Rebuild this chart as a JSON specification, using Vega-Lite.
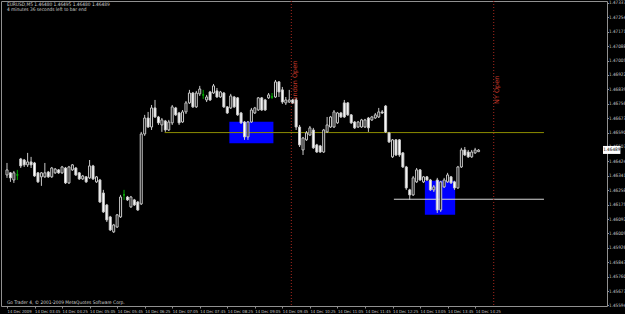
{
  "$schema": "https://vega.github.io/schema/vega-lite/v6.json",
  "width": 606,
  "height": 305,
  "autosize": {"type": "none"},
  "padding": {"left": 1, "top": 1, "right": 18, "bottom": 8},
  "background": "#000000",
  "config": {
    "view": {"stroke": "#909090", "strokeWidth": 1},
    "axis": {"labelFont": "DejaVu Sans Condensed", "labelFontSize": 4.6, "labelColor": "#c8c8c8", "domainColor": "#909090", "tickColor": "#909090", "grid": false, "title": null, "labelOverlap": false, "labelFlush": false, "labelSeparation": 0, "tickCount": 60}
  },
  "datasets": {
    "bars": [
      {"t":"2009-12-14T03:05","o":1.46346,"h":1.46415,"l":1.46329,"c":1.46375},
      {"t":"2009-12-14T03:10","o":1.46358,"h":1.46363,"l":1.46306,"c":1.46329},
      {"t":"2009-12-14T03:15","o":1.46317,"h":1.46369,"l":1.46300,"c":1.46358},
      {"t":"2009-12-14T03:20","o":1.46346,"h":1.46375,"l":1.46317,"c":1.46346},
      {"t":"2009-12-14T03:25","o":1.46438,"h":1.46444,"l":1.46386,"c":1.46398},
      {"t":"2009-12-14T03:30","o":1.46432,"h":1.46438,"l":1.46392,"c":1.46404},
      {"t":"2009-12-14T03:35","o":1.46404,"h":1.46473,"l":1.46392,"c":1.46421},
      {"t":"2009-12-14T03:40","o":1.46421,"h":1.46450,"l":1.46386,"c":1.46404},
      {"t":"2009-12-14T03:45","o":1.46415,"h":1.46421,"l":1.46335,"c":1.46340},
      {"t":"2009-12-14T03:50","o":1.46358,"h":1.46363,"l":1.46300,"c":1.46306},
      {"t":"2009-12-14T03:55","o":1.46335,"h":1.46363,"l":1.46283,"c":1.46358},
      {"t":"2009-12-14T04:00","o":1.46335,"h":1.46415,"l":1.46329,"c":1.46358},
      {"t":"2009-12-14T04:05","o":1.46363,"h":1.46369,"l":1.46329,"c":1.46335},
      {"t":"2009-12-14T04:10","o":1.46335,"h":1.46392,"l":1.46329,"c":1.46386},
      {"t":"2009-12-14T04:15","o":1.46358,"h":1.46386,"l":1.46352,"c":1.46380},
      {"t":"2009-12-14T04:20","o":1.46375,"h":1.46380,"l":1.46352,"c":1.46358},
      {"t":"2009-12-14T04:25","o":1.46358,"h":1.46398,"l":1.46352,"c":1.46392},
      {"t":"2009-12-14T04:30","o":1.46386,"h":1.46392,"l":1.46294,"c":1.46300},
      {"t":"2009-12-14T04:35","o":1.46300,"h":1.46398,"l":1.46294,"c":1.46392},
      {"t":"2009-12-14T04:40","o":1.46375,"h":1.46409,"l":1.46369,"c":1.46404},
      {"t":"2009-12-14T04:45","o":1.46386,"h":1.46392,"l":1.46340,"c":1.46346},
      {"t":"2009-12-14T04:50","o":1.46358,"h":1.46363,"l":1.46317,"c":1.46323},
      {"t":"2009-12-14T04:55","o":1.46323,"h":1.46346,"l":1.46317,"c":1.46340},
      {"t":"2009-12-14T05:00","o":1.46335,"h":1.46340,"l":1.46300,"c":1.46306},
      {"t":"2009-12-14T05:05","o":1.46329,"h":1.46432,"l":1.46323,"c":1.46398},
      {"t":"2009-12-14T05:10","o":1.46398,"h":1.46404,"l":1.46317,"c":1.46323},
      {"t":"2009-12-14T05:15","o":1.46306,"h":1.46340,"l":1.46300,"c":1.46335},
      {"t":"2009-12-14T05:20","o":1.46317,"h":1.46323,"l":1.46185,"c":1.46190},
      {"t":"2009-12-14T05:25","o":1.46242,"h":1.46260,"l":1.46127,"c":1.46133},
      {"t":"2009-12-14T05:30","o":1.46173,"h":1.46179,"l":1.46075,"c":1.46087},
      {"t":"2009-12-14T05:35","o":1.46104,"h":1.46110,"l":1.46023,"c":1.46029},
      {"t":"2009-12-14T05:40","o":1.46018,"h":1.46064,"l":1.46012,"c":1.46058},
      {"t":"2009-12-14T05:45","o":1.46046,"h":1.46121,"l":1.46041,"c":1.46116},
      {"t":"2009-12-14T05:50","o":1.46104,"h":1.46231,"l":1.46098,"c":1.46219},
      {"t":"2009-12-14T05:55","o":1.46231,"h":1.46260,"l":1.46202,"c":1.46231},
      {"t":"2009-12-14T06:00","o":1.46219,"h":1.46225,"l":1.46196,"c":1.46202},
      {"t":"2009-12-14T06:05","o":1.46162,"h":1.46225,"l":1.46156,"c":1.46219},
      {"t":"2009-12-14T06:10","o":1.46202,"h":1.46208,"l":1.46167,"c":1.46173},
      {"t":"2009-12-14T06:15","o":1.46190,"h":1.46196,"l":1.46139,"c":1.46144},
      {"t":"2009-12-14T06:20","o":1.46179,"h":1.46594,"l":1.46173,"c":1.46582},
      {"t":"2009-12-14T06:25","o":1.46582,"h":1.46692,"l":1.46571,"c":1.46674},
      {"t":"2009-12-14T06:30","o":1.46674,"h":1.46709,"l":1.46617,"c":1.46622},
      {"t":"2009-12-14T06:35","o":1.46622,"h":1.46749,"l":1.46605,"c":1.46732},
      {"t":"2009-12-14T06:40","o":1.46732,"h":1.46778,"l":1.46674,"c":1.46680},
      {"t":"2009-12-14T06:45","o":1.46680,"h":1.46686,"l":1.46634,"c":1.46646},
      {"t":"2009-12-14T06:50","o":1.46634,"h":1.46674,"l":1.46594,"c":1.46663},
      {"t":"2009-12-14T06:55","o":1.46657,"h":1.46663,"l":1.46594,"c":1.46605},
      {"t":"2009-12-14T07:00","o":1.46605,"h":1.46663,"l":1.46599,"c":1.46651},
      {"t":"2009-12-14T07:05","o":1.46646,"h":1.46749,"l":1.46634,"c":1.46738},
      {"t":"2009-12-14T07:10","o":1.46732,"h":1.46738,"l":1.46686,"c":1.46692},
      {"t":"2009-12-14T07:15","o":1.46703,"h":1.46709,"l":1.46634,"c":1.46646},
      {"t":"2009-12-14T07:20","o":1.46651,"h":1.46720,"l":1.46646,"c":1.46709},
      {"t":"2009-12-14T07:25","o":1.46709,"h":1.46772,"l":1.46697,"c":1.46761},
      {"t":"2009-12-14T07:30","o":1.46761,"h":1.46836,"l":1.46755,"c":1.46818},
      {"t":"2009-12-14T07:35","o":1.46818,"h":1.46824,"l":1.46732,"c":1.46738},
      {"t":"2009-12-14T07:40","o":1.46738,"h":1.46830,"l":1.46732,"c":1.46818},
      {"t":"2009-12-14T07:45","o":1.46813,"h":1.46859,"l":1.46801,"c":1.46841},
      {"t":"2009-12-14T07:50","o":1.46807,"h":1.46836,"l":1.46784,"c":1.46807},
      {"t":"2009-12-14T07:55","o":1.46778,"h":1.46807,"l":1.46766,"c":1.46795},
      {"t":"2009-12-14T08:00","o":1.46824,"h":1.46830,"l":1.46772,"c":1.46778},
      {"t":"2009-12-14T08:05","o":1.46818,"h":1.46870,"l":1.46813,"c":1.46859},
      {"t":"2009-12-14T08:10","o":1.46830,"h":1.46847,"l":1.46790,"c":1.46795},
      {"t":"2009-12-14T08:15","o":1.46795,"h":1.46830,"l":1.46790,"c":1.46824},
      {"t":"2009-12-14T08:20","o":1.46818,"h":1.46824,"l":1.46732,"c":1.46738},
      {"t":"2009-12-14T08:25","o":1.46738,"h":1.46743,"l":1.46697,"c":1.46703},
      {"t":"2009-12-14T08:30","o":1.46732,"h":1.46813,"l":1.46726,"c":1.46801},
      {"t":"2009-12-14T08:35","o":1.46795,"h":1.46801,"l":1.46732,"c":1.46738},
      {"t":"2009-12-14T08:40","o":1.46790,"h":1.46795,"l":1.46686,"c":1.46692},
      {"t":"2009-12-14T08:45","o":1.46703,"h":1.46709,"l":1.46640,"c":1.46646},
      {"t":"2009-12-14T08:50","o":1.46651,"h":1.46657,"l":1.46548,"c":1.46565},
      {"t":"2009-12-14T08:55","o":1.46565,"h":1.46657,"l":1.46548,"c":1.46651},
      {"t":"2009-12-14T09:00","o":1.46651,"h":1.46732,"l":1.46646,"c":1.46720},
      {"t":"2009-12-14T09:05","o":1.46703,"h":1.46738,"l":1.46697,"c":1.46732},
      {"t":"2009-12-14T09:10","o":1.46720,"h":1.46795,"l":1.46715,"c":1.46790},
      {"t":"2009-12-14T09:15","o":1.46790,"h":1.46795,"l":1.46715,"c":1.46720},
      {"t":"2009-12-14T09:20","o":1.46778,"h":1.46784,"l":1.46715,"c":1.46720},
      {"t":"2009-12-14T09:25","o":1.46790,"h":1.46818,"l":1.46784,"c":1.46807},
      {"t":"2009-12-14T09:30","o":1.46795,"h":1.46818,"l":1.46784,"c":1.46795},
      {"t":"2009-12-14T09:35","o":1.46795,"h":1.46893,"l":1.46790,"c":1.46882},
      {"t":"2009-12-14T09:40","o":1.46882,"h":1.46887,"l":1.46795,"c":1.46824},
      {"t":"2009-12-14T09:45","o":1.46836,"h":1.46853,"l":1.46755,"c":1.46766},
      {"t":"2009-12-14T09:50","o":1.46761,"h":1.46795,"l":1.46749,"c":1.46778},
      {"t":"2009-12-14T09:55","o":1.46766,"h":1.46836,"l":1.46761,"c":1.46778},
      {"t":"2009-12-14T10:00","o":1.46778,"h":1.46784,"l":1.46755,"c":1.46761},
      {"t":"2009-12-14T10:05","o":1.46778,"h":1.46790,"l":1.46605,"c":1.46622},
      {"t":"2009-12-14T10:10","o":1.46622,"h":1.46634,"l":1.46507,"c":1.46519},
      {"t":"2009-12-14T10:15","o":1.46490,"h":1.46565,"l":1.46461,"c":1.46559},
      {"t":"2009-12-14T10:20","o":1.46548,"h":1.46599,"l":1.46542,"c":1.46588},
      {"t":"2009-12-14T10:25","o":1.46576,"h":1.46628,"l":1.46571,"c":1.46617},
      {"t":"2009-12-14T10:30","o":1.46605,"h":1.46617,"l":1.46496,"c":1.46502},
      {"t":"2009-12-14T10:35","o":1.46519,"h":1.46525,"l":1.46473,"c":1.46478},
      {"t":"2009-12-14T10:40","o":1.46513,"h":1.46519,"l":1.46473,"c":1.46478},
      {"t":"2009-12-14T10:45","o":1.46478,"h":1.46611,"l":1.46473,"c":1.46605},
      {"t":"2009-12-14T10:50","o":1.46594,"h":1.46680,"l":1.46588,"c":1.46634},
      {"t":"2009-12-14T10:55","o":1.46622,"h":1.46686,"l":1.46617,"c":1.46680},
      {"t":"2009-12-14T11:00","o":1.46622,"h":1.46720,"l":1.46617,"c":1.46709},
      {"t":"2009-12-14T11:05","o":1.46646,"h":1.46709,"l":1.46640,"c":1.46703},
      {"t":"2009-12-14T11:10","o":1.46703,"h":1.46709,"l":1.46674,"c":1.46680},
      {"t":"2009-12-14T11:15","o":1.46761,"h":1.46778,"l":1.46674,"c":1.46680},
      {"t":"2009-12-14T11:20","o":1.46761,"h":1.46766,"l":1.46686,"c":1.46692},
      {"t":"2009-12-14T11:25","o":1.46692,"h":1.46697,"l":1.46640,"c":1.46646},
      {"t":"2009-12-14T11:30","o":1.46651,"h":1.46657,"l":1.46611,"c":1.46617},
      {"t":"2009-12-14T11:35","o":1.46622,"h":1.46657,"l":1.46617,"c":1.46651},
      {"t":"2009-12-14T11:40","o":1.46622,"h":1.46669,"l":1.46617,"c":1.46663},
      {"t":"2009-12-14T11:45","o":1.46622,"h":1.46669,"l":1.46617,"c":1.46663},
      {"t":"2009-12-14T11:50","o":1.46674,"h":1.46680,"l":1.46594,"c":1.46617},
      {"t":"2009-12-14T11:55","o":1.46663,"h":1.46686,"l":1.46657,"c":1.46680},
      {"t":"2009-12-14T12:00","o":1.46674,"h":1.46703,"l":1.46669,"c":1.46692},
      {"t":"2009-12-14T12:05","o":1.46680,"h":1.46732,"l":1.46674,"c":1.46709},
      {"t":"2009-12-14T12:10","o":1.46709,"h":1.46720,"l":1.46697,"c":1.46703},
      {"t":"2009-12-14T12:15","o":1.46743,"h":1.46749,"l":1.46588,"c":1.46594},
      {"t":"2009-12-14T12:20","o":1.46588,"h":1.46594,"l":1.46530,"c":1.46536},
      {"t":"2009-12-14T12:25","o":1.46450,"h":1.46553,"l":1.46444,"c":1.46548},
      {"t":"2009-12-14T12:30","o":1.46548,"h":1.46553,"l":1.46455,"c":1.46461},
      {"t":"2009-12-14T12:35","o":1.46548,"h":1.46553,"l":1.46450,"c":1.46461},
      {"t":"2009-12-14T12:40","o":1.46473,"h":1.46478,"l":1.46386,"c":1.46392},
      {"t":"2009-12-14T12:45","o":1.46392,"h":1.46398,"l":1.46260,"c":1.46271},
      {"t":"2009-12-14T12:50","o":1.46260,"h":1.46266,"l":1.46202,"c":1.46231},
      {"t":"2009-12-14T12:55","o":1.46231,"h":1.46340,"l":1.46225,"c":1.46329},
      {"t":"2009-12-14T13:00","o":1.46306,"h":1.46386,"l":1.46300,"c":1.46375},
      {"t":"2009-12-14T13:05","o":1.46375,"h":1.46380,"l":1.46312,"c":1.46317},
      {"t":"2009-12-14T13:10","o":1.46306,"h":1.46340,"l":1.46300,"c":1.46335},
      {"t":"2009-12-14T13:15","o":1.46335,"h":1.46340,"l":1.46312,"c":1.46317},
      {"t":"2009-12-14T13:20","o":1.46317,"h":1.46323,"l":1.46254,"c":1.46260},
      {"t":"2009-12-14T13:25","o":1.46260,"h":1.46288,"l":1.46248,"c":1.46277},
      {"t":"2009-12-14T13:30","o":1.46317,"h":1.46329,"l":1.46127,"c":1.46144},
      {"t":"2009-12-14T13:35","o":1.46144,"h":1.46312,"l":1.46133,"c":1.46306},
      {"t":"2009-12-14T13:40","o":1.46277,"h":1.46329,"l":1.46271,"c":1.46317},
      {"t":"2009-12-14T13:45","o":1.46306,"h":1.46358,"l":1.46300,"c":1.46346},
      {"t":"2009-12-14T13:50","o":1.46335,"h":1.46340,"l":1.46294,"c":1.46300},
      {"t":"2009-12-14T13:55","o":1.46306,"h":1.46312,"l":1.46260,"c":1.46271},
      {"t":"2009-12-14T14:00","o":1.46271,"h":1.46398,"l":1.46266,"c":1.46392},
      {"t":"2009-12-14T14:05","o":1.46392,"h":1.46502,"l":1.46386,"c":1.46490},
      {"t":"2009-12-14T14:10","o":1.46490,"h":1.46507,"l":1.46455,"c":1.46461},
      {"t":"2009-12-14T14:15","o":1.46478,"h":1.46490,"l":1.46444,"c":1.46450},
      {"t":"2009-12-14T14:20","o":1.46450,"h":1.46490,"l":1.46444,"c":1.46478},
      {"t":"2009-12-14T14:25","o":1.46473,"h":1.46502,"l":1.46467,"c":1.46490},
      {"t":"2009-12-14T14:30","o":1.46480,"h":1.46495,"l":1.46480,"c":1.46489}
    ],
    "events": [
      {"t":"2009-12-14T09:58","label":"London Open"},
      {"t":"2009-12-14T14:52","label":"NY Open"}
    ],
    "boxes": [
      {"t1":"2009-12-14T08:28","t2":"2009-12-14T09:32","p1":1.46653,"p2":1.46529},
      {"t1":"2009-12-14T13:12","t2":"2009-12-14T13:56","p1":1.46313,"p2":1.46116}
    ],
    "levels": [
      {"name":"upper","t1":"2009-12-14T06:54","t2":"2009-12-14T16:05","p":1.46590},
      {"name":"lower","t1":"2009-12-14T12:27","t2":"2009-12-14T16:05","p":1.46206}
    ],
    "header": [
      {"t":"2009-12-14T03:05","lines":["EURUSD,M5  1.46480 1.46495 1.46480 1.46489","4 minutes 36 seconds left to bar end"]}
    ],
    "footer": [
      {"t":"2009-12-14T03:05","note":"Go Trader 4, © 2001-2009 MetaQuotes Software Corp."}
    ],
    "quote": [
      {"t1":"2009-12-14T17:30:43","t2":"2009-12-14T17:56","t":"2009-12-14T17:31:00","bid":1.46489}
    ]
  },
  "layer": [
    {
      "data": {"name": "boxes"},
      "mark": {"type": "rect", "color": "#0000ff"},
      "encoding": {
        "x": {"field": "t1", "type": "temporal",
          "scale": {"domain": [{"year":2009,"month":12,"date":14,"hours":3,"minutes":3,"seconds":34},{"year":2009,"month":12,"date":14,"hours":17,"minutes":29,"seconds":17}]},
          "axis": {
            "values": [
              {"year":2009,"month":12,"date":14,"hours":3,"minutes":5},
              {"year":2009,"month":12,"date":14,"hours":3,"minutes":45},
              {"year":2009,"month":12,"date":14,"hours":4,"minutes":25},
              {"year":2009,"month":12,"date":14,"hours":5,"minutes":5},
              {"year":2009,"month":12,"date":14,"hours":5,"minutes":45},
              {"year":2009,"month":12,"date":14,"hours":6,"minutes":25},
              {"year":2009,"month":12,"date":14,"hours":7,"minutes":5},
              {"year":2009,"month":12,"date":14,"hours":7,"minutes":45},
              {"year":2009,"month":12,"date":14,"hours":8,"minutes":25},
              {"year":2009,"month":12,"date":14,"hours":9,"minutes":5},
              {"year":2009,"month":12,"date":14,"hours":9,"minutes":45},
              {"year":2009,"month":12,"date":14,"hours":10,"minutes":25},
              {"year":2009,"month":12,"date":14,"hours":11,"minutes":5},
              {"year":2009,"month":12,"date":14,"hours":11,"minutes":45},
              {"year":2009,"month":12,"date":14,"hours":12,"minutes":25},
              {"year":2009,"month":12,"date":14,"hours":13,"minutes":5},
              {"year":2009,"month":12,"date":14,"hours":13,"minutes":45},
              {"year":2009,"month":12,"date":14,"hours":14,"minutes":25}
            ],
            "tickCount": 60,
            "labelExpr": "datum.index == 0 ? '14 Dec 2009' : timeFormat(datum.value, '%d %b %H:%M')",
            "labelFontSize": 4.2,
            "labelAlign": "left", "labelBaseline": "top", "labelPadding": 1, "tickSize": 2,
            "labelOverlap": false, "labelFlush": false, "domain": false
          }
        },
        "x2": {"field": "t2"},
        "y": {"field": "p1", "type": "quantitative",
          "scale": {"domain": [1.45591, 1.47348], "zero": false, "nice": false},
          "axis": {
            "orient": "right",
            "values": [1.47337,1.47254,1.47171,1.47088,1.47005,1.46922,1.46839,1.46756,1.46673,1.46590,1.46507,1.46424,1.46341,1.46258,1.46175,1.46092,1.46009,1.45926,1.45843,1.45760,1.45677,1.45594],
            "tickCount": 60,
            "format": ".5f", "labelAlign": "left", "labelBaseline": "middle", "labelPadding": 0, "tickSize": 1.5,
            "labelOverlap": false, "labelFlush": false, "domain": false
          }
        },
        "y2": {"field": "p2"}
      }
    },
    {
      "data": {"name": "levels"},
      "mark": {"type": "rule", "strokeWidth": 1},
      "encoding": {
        "x": {"field": "t1", "type": "temporal"},
        "x2": {"field": "t2"},
        "y": {"field": "p", "type": "quantitative", "axis": {"orient": "right"}},
        "color": {"field": "name", "type": "nominal", "scale": {"domain": ["upper", "lower"], "range": ["#8c8c00", "#d8d8d8"]}, "legend": null}
      }
    },
    {
      "mark": {"type": "rule", "color": "#8a8a8a", "strokeWidth": 1},
      "encoding": {"y": {"datum": 1.46489, "type": "quantitative", "axis": {"orient": "right"}}}
    },
    {
      "data": {"name": "events"},
      "mark": {"type": "rule", "color": "#a8281e", "strokeWidth": 1, "strokeDash": [1, 2]},
      "encoding": {"x": {"field": "t", "type": "temporal"}}
    },
    {
      "data": {"name": "events"},
      "mark": {"type": "text", "color": "#c8392b", "angle": 270, "align": "left", "baseline": "middle", "dy": 3.5, "font": "DejaVu Sans", "fontSize": 6.5},
      "encoding": {
        "x": {"field": "t", "type": "temporal"},
        "y": {"datum": 1.46755, "type": "quantitative", "axis": {"orient": "right"}},
        "text": {"field": "label"}
      }
    },
    {
      "data": {"name": "bars"},
      "mark": {"type": "rule", "strokeWidth": 1},
      "encoding": {
        "x": {"field": "t", "type": "temporal"},
        "y": {"field": "l", "type": "quantitative", "axis": {"orient": "right"}},
        "y2": {"field": "h"},
        "color": {"condition": {"test": "datum.o == datum.c", "value": "#00b000"}, "value": "#c8c8c8"}
      }
    },
    {
      "data": {"name": "bars"},
      "mark": {"type": "bar", "size": 2, "strokeWidth": 1},
      "encoding": {
        "x": {"field": "t", "type": "temporal"},
        "y": {"field": "o", "type": "quantitative", "axis": {"orient": "right"}},
        "y2": {"field": "c"},
        "fill": {"condition": {"test": "datum.c > datum.o", "value": "#000000"}, "value": "#ffffff"},
        "stroke": {"condition": {"test": "datum.o == datum.c", "value": "#00b000"}, "value": "#c8c8c8"}
      }
    },
    {
      "data": {"name": "header"},
      "mark": {"type": "text", "color": "#d0d0d0", "align": "left", "baseline": "top", "font": "DejaVu Sans Condensed", "fontSize": 4.8, "lineHeight": 4.8},
      "encoding": {
        "x": {"field": "t", "type": "temporal"},
        "y": {"datum": 1.47340, "type": "quantitative", "axis": {"orient": "right"}},
        "text": {"field": "lines"}
      }
    },
    {
      "data": {"name": "footer"},
      "mark": {"type": "text", "color": "#d0d0d0", "align": "left", "baseline": "middle", "font": "DejaVu Sans Condensed", "fontSize": 4.8},
      "encoding": {
        "x": {"field": "t", "type": "temporal"},
        "y": {"datum": 1.45606, "type": "quantitative", "axis": {"orient": "right"}},
        "text": {"field": "note"}
      }
    },
    {
      "data": {"name": "quote"},
      "mark": {"type": "rect", "color": "#ffffff"},
      "encoding": {
        "x": {"field": "t1", "type": "temporal"},
        "x2": {"field": "t2"},
        "y": {"datum": 1.46513, "type": "quantitative", "axis": {"orient": "right"}},
        "y2": {"datum": 1.46467}
      }
    },
    {
      "data": {"name": "quote"},
      "mark": {"type": "text", "color": "#000000", "align": "left", "baseline": "middle", "font": "DejaVu Sans Condensed", "fontSize": 4.6},
      "encoding": {
        "x": {"field": "t", "type": "temporal"},
        "y": {"field": "bid", "type": "quantitative", "axis": {"orient": "right"}},
        "text": {"field": "bid", "format": ".5f"}
      }
    }
  ]
}
